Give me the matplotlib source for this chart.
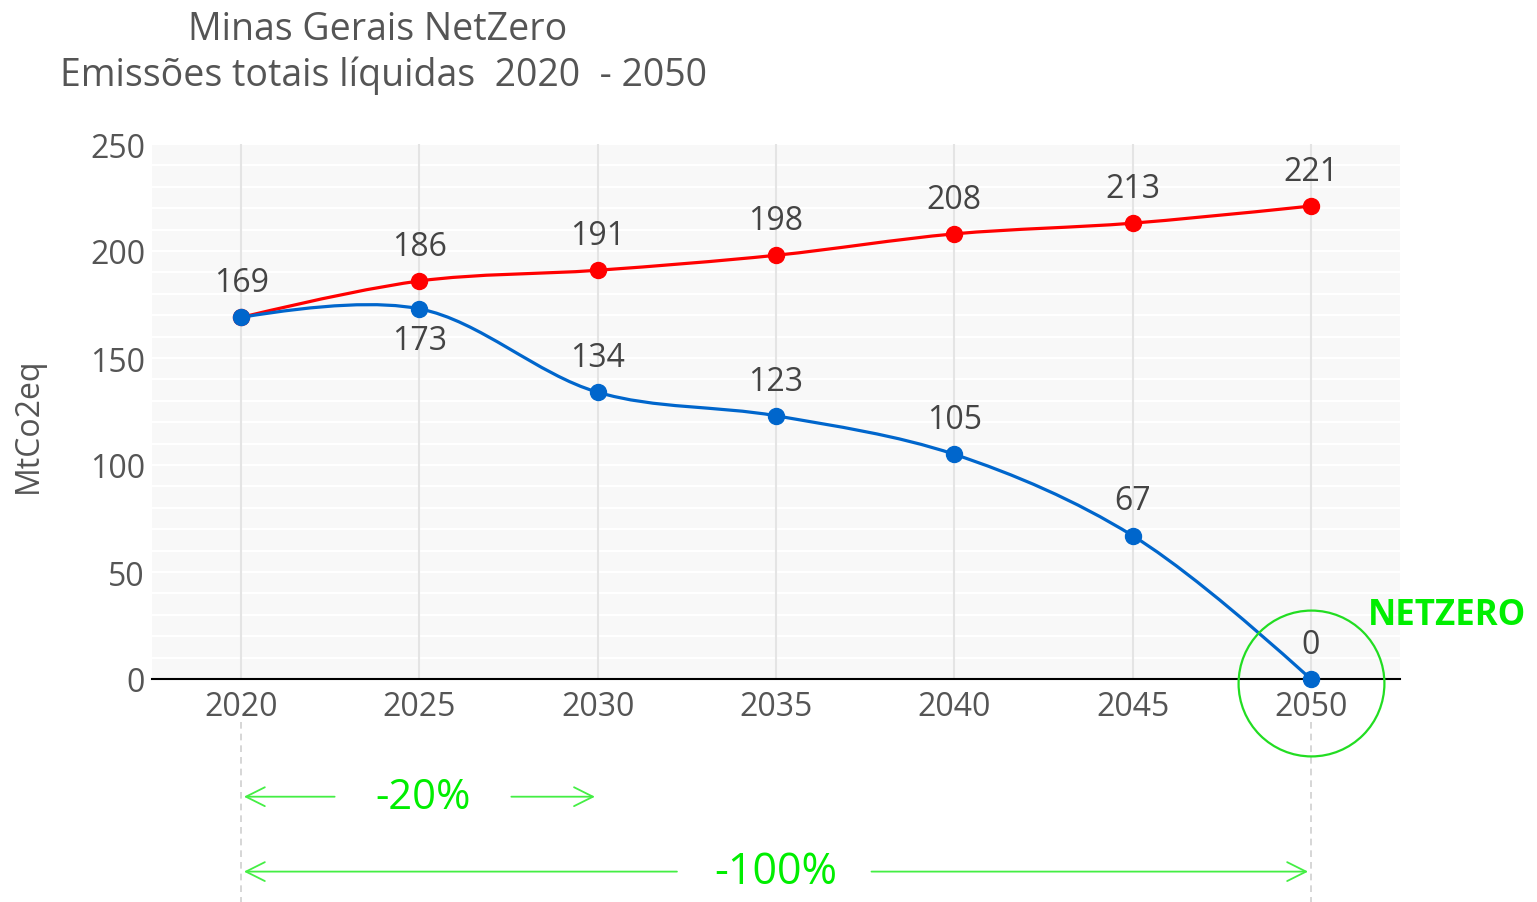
import numpy as np
import matplotlib
matplotlib.use("Agg")
import matplotlib.pyplot as plt
from matplotlib.path import Path
from matplotlib.patches import PathPatch

plt.rcParams['font.family'] = ['Open Sans', 'DejaVu Sans']

# data
years = [2020, 2025, 2030, 2035, 2040, 2045, 2050]
baseline = [169, 186, 191, 198, 208, 213, 221]
netzero = [169, 173, 134, 123, 105, 67, 0]
title_lines = ['Minas Gerais NetZero', 'Emissões totais líquidas  2020  - 2050']
y_ticks = [0, 50, 100, 150, 200, 250]

TXT = '#444444'
RED = '#ff0000'
BLUE = '#0066cc'
GREEN = '#00ee00'

fig = plt.figure(figsize=(15.37, 9.03), dpi=100)
ax = fig.add_axes([152 / 1537, 223 / 903, 1248 / 1537, 535 / 903])
ax.set_facecolor('#f8f8f8')
ax.set_xlim(2017.5, 2052.5)
ax.set_ylim(0, 250)

# grid
for v in range(10, 251, 10):
    ax.axhline(v, color='white', lw=1.5, zorder=1)
for x in years:
    ax.axvline(x, color='#e4e4e4', lw=1.5, zorder=1)
ax.axhline(0, color='black', lw=1.5, zorder=2, clip_on=False)

for s in ax.spines.values():
    s.set_visible(False)
ax.set_xticks(years)
ax.set_yticks(y_ticks)
ax.tick_params(length=0, labelsize=23, labelcolor='#555555')
ax.tick_params(axis='x', pad=8)
ax.tick_params(axis='y', pad=5)
fig.text(28 / 1537, 1 - 425 / 903, 'MtCo2eq', rotation=90, fontsize=23,
         color='#555555', ha='center', va='center')


def spline_path(xs, ys, smooth=1.0):
    # plotly-like spline, computed in display space
    pts = ax.transData.transform(np.column_stack([xs, ys]))
    tans = []
    for i in range(1, len(pts) - 1):
        p0, p1, p2 = pts[i - 1], pts[i], pts[i + 1]
        d1 = p0 - p1
        d2 = p2 - p1
        d1a = np.hypot(*d1) ** 0.5
        d2a = np.hypot(*d2) ** 0.5
        num = (d2a * d2a * d1 - d1a * d1a * d2) * smooth
        den1 = 3 * d2a * (d1a + d2a)
        den2 = 3 * d1a * (d1a + d2a)
        tans.append((p1 + num / den1, p1 - num / den2))
    verts = [pts[0], tans[0][0], pts[1]]
    codes = [Path.MOVETO, Path.CURVE3, Path.CURVE3]
    for i in range(2, len(pts) - 1):
        verts += [tans[i - 2][1], tans[i - 1][0], pts[i]]
        codes += [Path.CURVE4] * 3
    verts += [tans[-1][1], pts[-1]]
    codes += [Path.CURVE3] * 2
    verts = ax.transData.inverted().transform(np.array(verts))
    return Path(verts, codes)


for ys, col in [(baseline, RED), (netzero, BLUE)]:
    ax.add_patch(PathPatch(spline_path(years, ys), fill=False, edgecolor=col,
                           lw=2.3, zorder=3, clip_on=False))
    ax.plot(years, ys, 'o', color=col, ms=11.5, zorder=4, clip_on=False)

# value labels
for i, (x, v) in enumerate(zip(years, baseline)):
    ax.annotate(str(v), (x, v), xytext=(0, 25), textcoords='offset points',
                ha='center', va='center', fontsize=23, color=TXT, zorder=5)
for i, (x, v) in enumerate(zip(years, netzero)):
    if i == 0:
        continue
    dy = -23 if i == 1 else 25
    ax.annotate(str(v), (x, v), xytext=(0, dy), textcoords='offset points',
                ha='center', va='center', fontsize=23, color=TXT, zorder=5)

# NetZero circle + label
ax.plot([years[-1]], [-1.9], 'o', ms=105, mfc='none', mec='#22dd22',
        mew=1.6, zorder=6, clip_on=False)
ax.text(2051.6, 30, 'NETZERO', fontsize=25, fontweight='bold', color=GREEN,
        ha='left', va='center', zorder=6, clip_on=False)

# dashed guides below axis
for x in [years[0], years[-1]]:
    ax.plot([x, x], [-20, -106], color='#d0d0d0', lw=1.2, ls=(0, (4, 3)),
            clip_on=False, zorder=1)

# reduction arrows
arr = dict(arrowstyle='->', color='#44ee44', lw=1.3, mutation_scale=34)
ax.annotate('', xy=(2020, -55), xytext=(2022.7, -55), arrowprops=arr, annotation_clip=False)
ax.annotate('', xy=(2030, -55), xytext=(2027.5, -55), arrowprops=arr, annotation_clip=False)
ax.text(2025.1, -55, '-20%', fontsize=30, color=GREEN, ha='center', va='center', clip_on=False)
ax.annotate('', xy=(2020, -90), xytext=(2032.3, -90), arrowprops=arr, annotation_clip=False)
ax.annotate('', xy=(2050, -90), xytext=(2037.6, -90), arrowprops=arr, annotation_clip=False)
ax.text(2035.0, -90, '-100%', fontsize=31, color=GREEN, ha='center', va='center', clip_on=False)

# title
fig.text(378 / 1537, 1 - 30 / 903, title_lines[0], fontsize=27, color='#555555',
         ha='center', va='center')
fig.text(384 / 1537, 1 - 76 / 903, title_lines[1], fontsize=27, color='#555555',
         ha='center', va='center')

fig.savefig('out.png', dpi=100)
